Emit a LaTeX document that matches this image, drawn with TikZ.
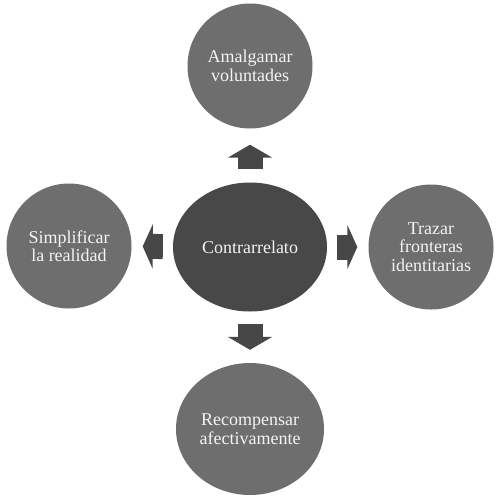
\documentclass[tikz,border=0pt]{standalone}
\usepackage{fontspec}
\setmainfont{Liberation Serif}
\usepackage{tikz}
\usetikzlibrary{arrows.meta,shapes.geometric}
\definecolor{HubGray}{HTML}{484848}
\definecolor{LeafGray}{HTML}{6E6E6E}
\definecolor{ArrowGray}{HTML}{474747}
\definecolor{LabelInk}{HTML}{F4F4F4}
\tikzset{
  labeltext/.style={font=\fontsize{18}{18.5}\selectfont, text=LabelInk, align=center},
  hubnode/.style={ellipse, fill=HubGray, inner sep=0pt, minimum width=154pt, minimum height=129pt, labeltext},
  leafnode/.style={ellipse, fill=LeafGray, inner sep=0pt, minimum width=125pt, minimum height=125pt, labeltext},
  blockarrow/.style={draw=ArrowGray, line width=25pt, -{Triangle[width=44pt, length=#1]}},
  blockarrow/.default=13pt
}
\begin{document}
\begin{tikzpicture}[x=1pt, y=-1pt]
\useasboundingbox[fill=white] (0,0) rectangle (500,496);
\node[hubnode] (hub) at (250,247) {Contrarrelato};
\node[leafnode] (amal) at (250,66) {Amalgamar\\voluntades};
\node[leafnode] (simp) at (69,246) {Simplificar\\la realidad};
\node[leafnode] (traz) at (431,247) {Trazar\\fronteras\\identitarias};
\node[leafnode, minimum width=148pt, minimum height=132pt] (reco) at (250,429) {Recompensar\\afectivamente};
% flechas
\draw[blockarrow, shorten <=13pt, shorten >=16pt] (hub) -- (amal);
\draw[blockarrow, shorten <=12pt, shorten >=13pt] (hub) -- (reco);
\draw[blockarrow=10pt, shorten <=10pt, shorten >=11pt] (hub) -- (simp);
\draw[blockarrow=10pt, shorten <=10pt, shorten >=11pt] (hub) -- (traz);
\end{tikzpicture}
\end{document}
